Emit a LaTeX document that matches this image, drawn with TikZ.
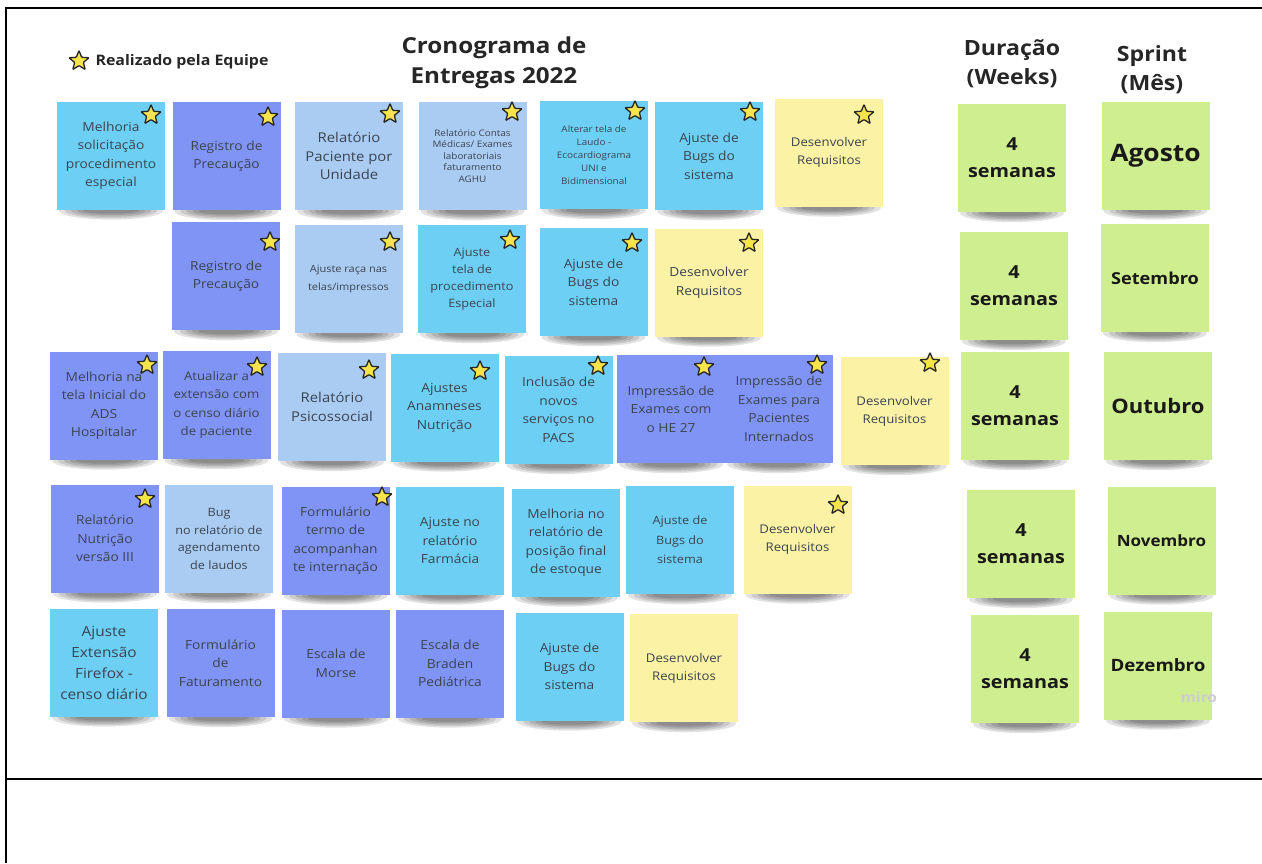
\documentclass[tikz,border=0pt]{standalone}
\usepackage{fontspec}
\setmainfont{Open Sans}[FakeStretch=1.1]
\usetikzlibrary{shapes.geometric}
\definecolor{cyanS}{HTML}{6DCFF4}
\definecolor{purpS}{HTML}{8094F6}
\definecolor{liteS}{HTML}{AACCF3}
\definecolor{yellS}{HTML}{FBF2A6}
\definecolor{grnS}{HTML}{CFEE90}
\definecolor{starY}{HTML}{F6E44A}
\definecolor{txtS}{HTML}{3A4450}
\pgfdeclarelayer{bg}\pgfsetlayers{bg,main}
\tikzset{
 sticky/.style={minimum width=108pt, minimum height=108pt, inner sep=2pt, align=center, text=txtS, font=\fontsize{12.5}{18.5}\selectfont},
 cy/.style={sticky, fill=cyanS},
 pu/.style={sticky, fill=purpS},
 li/.style={sticky, fill=liteS},
 ye/.style={sticky, fill=yellS},
 gr/.style={sticky, fill=grnS, text=black!90, font=\bfseries\fontsize{18}{27}\selectfont},
 done/.style={star, star points=5, star point ratio=2.3, minimum size=21pt, inner sep=0pt, fill=starY, draw=black!85, line width=1.3pt, rounded corners=0.8pt},
 head/.style={align=center, text=black!85, font=\bfseries\fontsize{21}{29}\selectfont},
 frameline/.style={line width=2.5pt, black},
 shad/.style={fill=black, opacity=0.11},
}
\begin{document}
\begin{tikzpicture}[x=1pt,y=-1pt]
\useasboundingbox (0,0) rectangle (1262,863);
% frame
\draw[frameline] (6,863) -- (6,8) -- (1262,8);
\draw[frameline] (6,779) -- (1262,779);
% headers
\node[done] (ls) at (79,61) {};
\node[anchor=west, text=black!85, font=\bfseries\fontsize{14.5}{16}\selectfont] (lt) at (92,62) {Realizado pela Equipe};
\node[head, font=\bfseries\fontsize{22}{30}\selectfont] (title) at (494,63) {Cronograma de\\Entregas 2022};
\node[head] (hdur) at (1012,64) {Duração\\(Weeks)};
\node[head] (hspr) at (1152,70) {Sprint\\(Mês)};
% row 1
\node[cy] (a1) at (111,155.5) {Melhoria\\solicitação\\procedimento\\especial};
\node[pu] (a2) at (226.5,156) {Registro de\\Precaução};
\node[li, font=\fontsize{13.5}{18.5}\selectfont] (a3) at (349,156) {Relatório\\Paciente por\\Unidade};
\node[li, font=\fontsize{9}{11.5}\selectfont] (a4) at (472.5,156) {Relatório Contas\\Médicas/ Exames\\laboratoriais\\faturamento\\AGHU};
\node[cy, font=\fontsize{9}{13}\selectfont] (a5) at (594,155) {Alterar tela de\\Laudo -\\Ecocardiograma\\UNI e\\Bidimensional};
\node[cy] (a6) at (709,156) {Ajuste de\\Bugs do\\sistema};
\node[ye, font=\fontsize{12}{18}\selectfont] (a7) at (829,152.5) {Desenvolver\\Requisitos};
\node[gr] (g1) at (1012,158) {4\\semanas};
\node[gr, font=\bfseries\fontsize{24}{28}\selectfont] (m1) at (1155.5,155.5) {Agosto};
% row 2
\node[pu] (b1) at (226,276) {Registro de\\Precaução};
\node[li, font=\fontsize{10}{18}\selectfont] (b2) at (348.5,279) {Ajuste raça nas\\telas/impressos};
\node[cy, font=\fontsize{11.5}{17}\selectfont] (b3) at (472,279) {Ajuste\\tela de\\procedimento\\Especial};
\node[cy] (b4) at (593.5,282) {Ajuste de\\Bugs do\\sistema};
\node[ye] (b5) at (709,282.5) {Desenvolver\\Requisitos};
\node[gr] (g2) at (1014,286) {4\\semanas};
\node[gr, font=\bfseries\fontsize{16.5}{20}\selectfont] (m2) at (1155,278) {Setembro};
% row 3
\node[pu] (c1) at (104,405.5) {Melhoria na\\tela Inicial do\\ADS\\Hospitalar};
\node[pu, font=\fontsize{12}{18.5}\selectfont] (c2) at (216.5,405) {Atualizar a\\extensão com\\o censo diário\\de paciente};
\node[li, font=\fontsize{13.5}{19}\selectfont] (c3) at (332,407) {Relatório\\Psicossocial};
\node[cy] (c4) at (444.5,407.5) {Ajustes\\Anamneses\\Nutrição};
\node[cy] (c5) at (558.5,410) {Inclusão de\\novos\\serviços no\\PACS};
\node[pu] (c6) at (671,409) {Impressão de\\Exames com\\o HE 27};
\node[pu] (c7) at (779,409) {Impressão de\\Exames para\\Pacientes\\Internados};
\node[ye, font=\fontsize{12}{18}\selectfont] (c8) at (894.5,411) {Desenvolver\\Requisitos};
\node[gr] (g3) at (1015,406) {4\\semanas};
\node[gr, font=\bfseries\fontsize{20}{24}\selectfont] (m3) at (1158,406) {Outubro};
% row 4
\node[pu] (d1) at (105,538.5) {Relatório\\Nutrição\\versão III};
\node[li, font=\fontsize{11.5}{17.5}\selectfont] (d2) at (219,539) {Bug\\no relatório de\\agendamento\\de laudos};
\node[pu] (d3) at (335.5,540.5) {Formulário\\termo de\\acompanhan\\te internação};
\node[cy] (d4) at (450,540.5) {Ajuste no\\relatório\\Farmácia};
\node[cy] (d5) at (566,542.5) {Melhoria no\\relatório de\\posição final\\de estoque};
\node[cy, font=\fontsize{11.5}{19.5}\selectfont] (d6) at (680,540) {Ajuste de\\Bugs do\\sistema};
\node[ye, font=\fontsize{12}{18}\selectfont] (d7) at (797.5,539.5) {Desenvolver\\Requisitos};
\node[gr] (g4) at (1021,544) {4\\semanas};
\node[gr, font=\bfseries\fontsize{15.5}{20}\selectfont] (m4) at (1161.5,540.5) {Novembro};
% row 5
\node[cy, font=\fontsize{14}{21}\selectfont] (e1) at (104,662.5) {Ajuste\\Extensão\\Firefox -\\censo diário};
\node[pu] (e2) at (220.5,663) {Formulário\\de\\Faturamento};
\node[pu] (e3) at (336,663.5) {Escala de\\Morse};
\node[pu] (e4) at (450,663.5) {Escala de\\Braden\\Pediátrica};
\node[cy] (e5) at (569.5,666.5) {Ajuste de\\Bugs do\\sistema};
\node[ye, font=\fontsize{12}{18}\selectfont] (e6) at (684,668) {Desenvolver\\Requisitos};
\node[gr] (g5) at (1025,669) {4\\semanas};
\node[gr, font=\bfseries\fontsize{17}{20}\selectfont] (m5) at (1158,665.5) {Dezembro};
\node[text=white!80!black, font=\bfseries\fontsize{14}{15}\selectfont] (wm) at (1199,697) {miro};
% stars
\node[done] (sa1) at (151,115) {};
\node[done] (sa2) at (268,117) {};
\node[done] (sa3) at (390,114) {};
\node[done] (sa4) at (512,112) {};
\node[done] (sa5) at (635,111) {};
\node[done] (sa6) at (750,112) {};
\node[done] (sa7) at (864,115) {};
\node[done] (sb1) at (270,242) {};
\node[done] (sb2) at (390,242) {};
\node[done] (sb3) at (510,240) {};
\node[done] (sb4) at (632,243) {};
\node[done] (sb5) at (749,243) {};
\node[done] (sc1) at (147,365) {};
\node[done] (sc2) at (257,367) {};
\node[done] (sc3) at (369,370) {};
\node[done] (sc4) at (480,371) {};
\node[done] (sc5) at (598,366) {};
\node[done] (sc6) at (704,367) {};
\node[done] (sc7) at (817,365) {};
\node[done] (sc8) at (930,363) {};
\node[done] (sd1) at (145,499) {};
\node[done] (sd3) at (382,497) {};
\node[done] (sd7) at (838,505) {};
% background and shadows
\begin{pgfonlayer}{bg}
\fill[white] (0,0) rectangle (1262,863);
\foreach \n in {a1,a2,a3,a4,a5,a6,a7,g1,m1,b1,b2,b3,b4,b5,g2,m2,c1,c2,c3,c4,c5,c6,c7,c8,g3,m3,d1,d2,d3,d4,d5,d6,d7,g4,m4,e1,e2,e3,e4,e5,e6,g5,m5} {
  \fill[shad] ([yshift=-1pt]\n.south) ellipse [x radius=52pt, y radius=9pt];
  \fill[shad] ([yshift=-1pt]\n.south) ellipse [x radius=46pt, y radius=7.5pt];
  \fill[shad] ([yshift=-1pt]\n.south) ellipse [x radius=40pt, y radius=6pt];
  \fill[shad] ([yshift=-1pt]\n.south) ellipse [x radius=34pt, y radius=4.5pt];
  \fill[shad] ([yshift=-1pt]\n.south) ellipse [x radius=28pt, y radius=3pt];
}
\end{pgfonlayer}
\end{tikzpicture}
\end{document}
